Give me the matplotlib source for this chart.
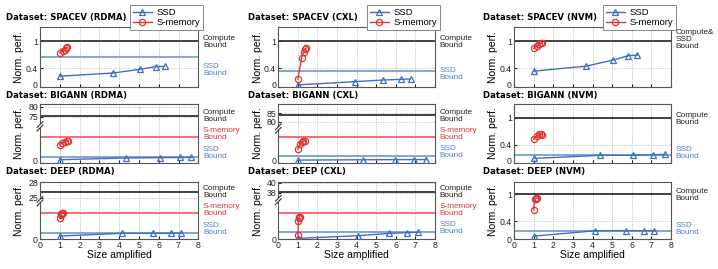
import numpy as np
import matplotlib
matplotlib.use("Agg")
import matplotlib.pyplot as plt
import matplotlib.transforms as mtransforms
from matplotlib.lines import Line2D
from matplotlib.patches import Rectangle

# ------------------------- data -------------------------
size_ticks = [0, 1, 2, 3, 4, 5, 6, 7, 8]

# SPACEV
spacev_rdma_ssd_x = [1.0, 3.7, 5.05, 5.85, 6.3]
spacev_rdma_ssd_y = [0.23, 0.30, 0.38, 0.44, 0.445]
spacev_rdma_smem_x = [1.0, 1.18, 1.25, 1.32, 1.38]
spacev_rdma_smem_y = [0.74, 0.79, 0.81, 0.84, 0.86]
spacev_rdma_bounds = {"compute": 1.0, "ssd": 0.65, "smem": None}

spacev_cxl_ssd_x = [1.0, 3.9, 5.35, 6.25, 6.75]
spacev_cxl_ssd_y = [0.04, 0.11, 0.147, 0.16, 0.17]
spacev_cxl_smem_x = [1.0, 1.19, 1.3, 1.36, 1.41]
spacev_cxl_smem_y = [0.17, 0.63, 0.77, 0.82, 0.84]
spacev_cxl_bounds = {"compute": 1.0, "ssd": 0.34, "smem": None}

spacev_nvm_ssd_x = [1.0, 3.67, 5.03, 5.83, 6.29]
spacev_nvm_ssd_y = [0.34, 0.45, 0.58, 0.68, 0.69]
spacev_nvm_smem_x = [1.0, 1.18, 1.28, 1.36, 1.43]
spacev_nvm_smem_y = [0.84, 0.89, 0.93, 0.95, 0.96]
spacev_nvm_bounds = {"compute": 1.0, "ssd": None, "smem": None}

# BIGANN
bigann_rdma_ssd_x = [1.0, 4.35, 6.05, 7.05, 7.65]
bigann_rdma_ssd_y = [3.2, 5.3, 5.6, 5.8, 5.9]
bigann_rdma_smem_x = [1.0, 1.12, 1.24, 1.34, 1.42]
bigann_rdma_smem_y = [20.5, 22.5, 23.8, 24.5, 24.8]
bigann_rdma_bounds = {"compute": 75.5, "ssd": 6.0, "smem": 30.0}

bigann_cxl_ssd_x = [1.0, 4.3, 5.95, 6.95, 7.55]
bigann_cxl_ssd_y = [2.8, 3.2, 3.3, 3.4, 3.4]
bigann_cxl_smem_x = [1.0, 1.1, 1.2, 1.28, 1.35]
bigann_cxl_smem_y = [15.5, 22.0, 24.0, 25.0, 25.3]
bigann_cxl_bounds = {"compute": 84.0, "ssd": 7.4, "smem": 30.2}

bigann_nvm_ssd_x = [1.0, 4.38, 6.05, 7.08, 7.7]
bigann_nvm_ssd_y = [0.09, 0.16, 0.16, 0.17, 0.18]
bigann_nvm_smem_x = [1.0, 1.18, 1.28, 1.36, 1.45]
bigann_nvm_smem_y = [0.52, 0.60, 0.63, 0.63, 0.62]
bigann_nvm_bounds = {"compute": 1.0, "ssd": 0.173, "smem": None}

# DEEP
deep_rdma_ssd_x = [1.0, 4.15, 5.7, 6.6, 7.15]
deep_rdma_ssd_y = [1.3, 2.4, 2.4, 2.45, 2.45]
deep_rdma_smem_x = [1.0, 1.04, 1.08, 1.11, 1.14]
deep_rdma_smem_y = [8.4, 9.8, 10.2, 10.4, 10.4]
deep_rdma_bounds = {"compute": 26.1, "ssd": 2.5, "smem": 10.6}

deep_cxl_ssd_x = [1.0, 4.08, 5.65, 6.58, 7.14]
deep_cxl_ssd_y = [0.5, 1.9, 3.1, 3.5, 3.7]
deep_cxl_smem_x = [1.0, 1.03, 1.05, 1.08, 1.1]
deep_cxl_smem_y = [2.3, 9.6, 11.0, 11.6, 11.8]
deep_cxl_bounds = {"compute": 38.2, "ssd": 4.0, "smem": 13.6}

deep_nvm_ssd_x = [1.0, 4.15, 5.7, 6.6, 7.15]
deep_nvm_ssd_y = [0.07, 0.19, 0.19, 0.19, 0.19]
deep_nvm_smem_x = [1.0, 1.06, 1.11, 1.14, 1.16]
deep_nvm_smem_y = [0.65, 0.89, 0.90, 0.91, 0.91]
deep_nvm_bounds = {"compute": 1.0, "ssd": 0.19, "smem": None}

titles = [
    ["Dataset: SPACEV (RDMA)", "Dataset: SPACEV (CXL)", "Dataset: SPACEV (NVM)"],
    ["Dataset: BIGANN (RDMA)", "Dataset: BIGANN (CXL)", "Dataset: BIGANN (NVM)"],
    ["Dataset: DEEP (RDMA)", "Dataset: DEEP (CXL)", "Dataset: DEEP (NVM)"],
]

# --------------------- panel configuration ---------------------
panels = [
    [
        dict(ssd=(spacev_rdma_ssd_x, spacev_rdma_ssd_y), smem=(spacev_rdma_smem_x, spacev_rdma_smem_y),
             b=spacev_rdma_bounds, ytop=1.3, yticks=[0, 0.4, 1], yticklabels=["0", "0.4", "1"],
             lab={"compute": 0.75, "ssd": 0.28}),
        dict(ssd=(spacev_cxl_ssd_x, spacev_cxl_ssd_y), smem=(spacev_cxl_smem_x, spacev_cxl_smem_y),
             b=spacev_cxl_bounds, ytop=1.3, yticks=[0, 0.4, 1], yticklabels=["0", "0.4", "1"],
             lab={"compute": 0.745, "ssd": 0.21}),
        dict(ssd=(spacev_nvm_ssd_x, spacev_nvm_ssd_y), smem=(spacev_nvm_smem_x, spacev_nvm_smem_y),
             b=spacev_nvm_bounds, ytop=1.3, yticks=[0, 0.4, 1], yticklabels=["0", "0.4", "1"],
             lab={"compute": 0.80}, compute_text="Compute&\nSSD\nBound"),
    ],
    [
        dict(ssd=(bigann_rdma_ssd_x, bigann_rdma_ssd_y), smem=(bigann_rdma_smem_x, bigann_rdma_smem_y),
             b=bigann_rdma_bounds, knots=([0, 40, 75, 81.34], [0, 0.59, 0.783, 1.0]), brk=0.62,
             yticks=[0, 75, 80], yticklabels=["0", "75", "80"],
             lab={"compute": 0.80, "smem": 0.49, "ssd": 0.17}),
        dict(ssd=(bigann_cxl_ssd_x, bigann_cxl_ssd_y), smem=(bigann_cxl_smem_x, bigann_cxl_smem_y),
             b=bigann_cxl_bounds, knots=([0, 40, 80, 90.5], [0, 0.585, 0.697, 1.0]), brk=0.58,
             yticks=[0, 80, 85], yticklabels=["0", "80", "85"],
             lab={"compute": 0.80, "smem": 0.48, "ssd": 0.18}),
        dict(ssd=(bigann_nvm_ssd_x, bigann_nvm_ssd_y), smem=(bigann_nvm_smem_x, bigann_nvm_smem_y),
             b=bigann_nvm_bounds, ytop=1.3, yticks=[0, 0.4, 1], yticklabels=["0", "0.4", "1"],
             lab={"compute": 0.74, "ssd": 0.166}),
    ],
    [
        dict(ssd=(deep_rdma_ssd_x, deep_rdma_ssd_y), smem=(deep_rdma_smem_x, deep_rdma_smem_y),
             b=deep_rdma_bounds, knots=([0, 15, 25, 28.16], [0, 0.65, 0.72, 1.0]), brk=0.66,
             yticks=[0, 25, 28], yticklabels=["0", "25", "28"],
             lab={"compute": 0.81, "smem": 0.50, "ssd": 0.18}),
        dict(ssd=(deep_cxl_ssd_x, deep_cxl_ssd_y), smem=(deep_cxl_smem_x, deep_cxl_smem_y),
             b=deep_cxl_bounds, knots=([0, 20, 38, 40.24], [0, 0.66, 0.806, 1.0]), brk=0.68,
             yticks=[0, 38, 40], yticklabels=["0", "38", "40"],
             lab={"compute": 0.81, "smem": 0.50, "ssd": 0.20}),
        dict(ssd=(deep_nvm_ssd_x, deep_nvm_ssd_y), smem=(deep_nvm_smem_x, deep_nvm_smem_y),
             b=deep_nvm_bounds, ytop=1.28, yticks=[0, 0.4, 1], yticklabels=["0", "0.4", "1"],
             lab={"compute": 0.76, "ssd": 0.18}),
    ],
]

# --------------------- style ---------------------
W, H = 718, 269
C_SSD = "#3f6fc0"
C_SSD_B = "#6b98d6"
C_SSD_T = "#4f80c8"
C_SMEM = "#e03535"
C_SMEM_B = "#ec5a5a"
C_COMP = "#333333"
FONT = "Liberation Sans"

plt.rcParams["font.family"] = [FONT, "DejaVu Sans"]

fig = plt.figure(figsize=(W / 100, H / 100), dpi=100)

col_left = [40, 278.3, 514]
col_width = [158.3, 156.7, 157]
row_top = [27.3, 104, 181.5]
row_bottom = [86.7, 162.5, 239.3]
title_y = [17.5, 95.3, 171.5]
title_x = [6, 248, 483]


def piecewise_scale(ax, kd, kf):
    kd = np.asarray(kd, float)
    kf = np.asarray(kf, float)

    def fwd(y):
        return np.interp(y, kd, kf)

    def inv(f):
        return np.interp(f, kf, kd)

    ax.set_yscale("function", functions=(fwd, inv))
    ax.set_ylim(kd[0], kd[-1])


for r in range(3):
    for c in range(3):
        p = panels[r][c]
        ax = fig.add_axes([col_left[c] / W, 1 - row_bottom[r] / H,
                           col_width[c] / W, (row_bottom[r] - row_top[r]) / H])
        if "knots" in p:
            piecewise_scale(ax, *p["knots"])
        else:
            ax.set_ylim(0, p["ytop"])
        ax.set_xlim(0, 8)
        ax.set_xticks(size_ticks)
        ax.set_yticks(p["yticks"])
        ax.set_yticklabels(p["yticklabels"])
        ax.yaxis.set_minor_locator(matplotlib.ticker.NullLocator())
        ax.grid(True, color="#bbbbbb", linestyle=(0, (1, 1.5)), linewidth=0.7)
        ax.set_axisbelow(True)
        ax.tick_params(axis="both", length=2, direction="in", labelsize=6.3,
                       pad=1.5, colors="#222222")
        if r < 2:
            ax.tick_params(axis="x", labelbottom=False)
            # lift the bottom "0" label slightly so it clears the next title
            lbl0 = ax.get_yticklabels()[0]
            lbl0.set_transform(lbl0.get_transform() +
                               mtransforms.ScaledTranslation(0, 1.6 / 72, fig.dpi_scale_trans))
        else:
            ax.set_xlabel("Size amplified", fontsize=7.5, labelpad=0)
        ax.set_ylabel("Norm. perf.", fontsize=7.5)
        ax.yaxis.set_label_coords(-0.10, 0.5)
        for s in ax.spines.values():
            s.set_color("#555555")
            s.set_linewidth(0.8)

        b = p["b"]
        ax.axhline(b["compute"], color=C_COMP, lw=1.3, zorder=2)
        if b["ssd"] is not None:
            ax.axhline(b["ssd"], color=C_SSD_B, lw=1.2, zorder=2)
        if b["smem"] is not None:
            ax.axhline(b["smem"], color=C_SMEM_B, lw=1.2, zorder=2)

        ax.plot(p["ssd"][0], p["ssd"][1], color=C_SSD, lw=1.0, marker="^",
                markersize=4.5, markerfacecolor="none", markeredgewidth=0.9, zorder=3)
        ax.plot(p["smem"][0], p["smem"][1], color=C_SMEM, lw=1.0, marker="o",
                markersize=4.5, markerfacecolor="none", markeredgewidth=0.9, zorder=3)

        lab = p["lab"]
        fs_lab = 5.9
        ax.text(1.03, lab["compute"], p.get("compute_text", "Compute\nBound"),
                transform=ax.transAxes, ha="left", va="center", fontsize=fs_lab,
                color="#222222", linespacing=1.0)
        if "smem" in lab:
            ax.text(1.03, lab["smem"], "S-memory\nBound", transform=ax.transAxes,
                    ha="left", va="center", fontsize=fs_lab, color=C_SMEM, linespacing=1.0)
        if "ssd" in lab:
            ax.text(1.03, lab["ssd"], "SSD\nBound", transform=ax.transAxes,
                    ha="left", va="center", fontsize=fs_lab, color=C_SSD_T, linespacing=1.0)

        if "brk" in p:
            y0 = p["brk"]
            ax.add_patch(Rectangle((-0.01, y0 - 0.03), 0.02, 0.06, transform=ax.transAxes,
                                   facecolor="white", edgecolor="none", clip_on=False, zorder=5))
            for dy in (-0.03, 0.03):
                ax.plot([-0.018, 0.018], [y0 + dy - 0.05, y0 + dy + 0.05],
                        transform=ax.transAxes, color="#333333", lw=0.8,
                        clip_on=False, zorder=6)

        fig.text(title_x[c] / W, 1 - title_y[r] / H, titles[r][c], fontsize=6.1,
                 fontweight="bold", family="DejaVu Sans", ha="left", va="center")

        if r == 0:
            handles = [
                Line2D([], [], color=C_SSD, lw=1.0, marker="^", markersize=4.5,
                       markerfacecolor="none", markeredgewidth=0.9, label="SSD"),
                Line2D([], [], color=C_SMEM, lw=1.0, marker="o", markersize=4.5,
                       markerfacecolor="none", markeredgewidth=0.9, label="S-memory"),
            ]
            leg = ax.legend(handles=handles, loc="upper right",
                            bbox_to_anchor=(1.03, 1.375), fontsize=6.8, frameon=True,
                            fancybox=False, edgecolor="#888888", framealpha=1,
                            handlelength=2.0, borderpad=0.3, labelspacing=0.15,
                            handletextpad=0.5, borderaxespad=0)
            leg.get_frame().set_linewidth(0.7)
            leg.set_zorder(10)

fig.savefig("out.png", dpi=100)
